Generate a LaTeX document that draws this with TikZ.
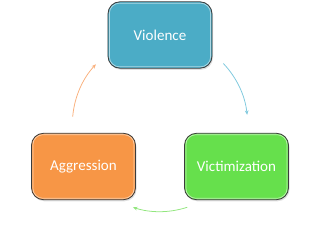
\documentclass[tikz,border=0pt]{standalone}
\usepackage{fontspec}
\setmainfont{Carlito}
\usetikzlibrary{arrows.meta,calc,shadows}
\definecolor{CycleBlue}{HTML}{4BACC6}
\definecolor{CycleOrange}{HTML}{F79646}
\definecolor{CycleGreen}{HTML}{66E04C}
\definecolor{CycleBlueLine}{HTML}{7FC9DE}
\definecolor{CycleOrangeLine}{HTML}{F9B07C}
\definecolor{CycleGreenLine}{HTML}{92E67E}
\definecolor{CycleInk}{HTML}{3C3C3C}
\tikzset{
    cycle/diagram/.style={
        x=0.25mm, y=0.25mm,
        font=\fontsize{10.7}{12}\selectfont,
        line cap=round,
        line join=round
    },
    cycle/box/.style={
        draw=CycleInk, line width=0.6pt, rounded corners=3mm,
        minimum width=26mm, minimum height=16.6mm,
        text=white, inner sep=2pt,
        drop shadow={shadow xshift=0.25mm, shadow yshift=-0.4mm, opacity=0.25}
    },
    cycle/gloss/.style={
        draw=white, draw opacity=0.55, line width=0.5pt,
        rounded corners=2.5mm
    },
    cycle/link/.style={
        line width=0.55pt,
        -{Stealth[length=1.1mm, width=0.9mm]}
    }
}

\begin{document}
\begin{tikzpicture}[cycle/diagram]
    \useasboundingbox (0,0) rectangle (320,224);
    \coordinate (ctr) at (160,100);
    % the three stages
    \node[cycle/box, fill=CycleBlue] (violence) at (160,189) {Violence};
    \node[cycle/box, fill=CycleOrange] (aggression) at (83.5,57.5) {Aggression};
    \node[cycle/box, fill=CycleGreen] (victim) at (236.5,57.5) {Victimization};
    \foreach \n in {violence,aggression,victim}
        \draw[cycle/gloss] ([shift={(1.3pt,1.3pt)}]\n.south west)
            rectangle ([shift={(-1.3pt,-1.3pt)}]\n.north east);
    % arcs round the cycle
    \coordinate (v-out) at ($(ctr)+(43.6:21.9mm)$);
    \coordinate (c-out) at ($(ctr)+(-72:21.9mm)$);
    \coordinate (a-out) at ($(ctr)+(175:21.9mm)$);
    \draw[cycle/link, draw=CycleBlueLine] (v-out)
        arc[start angle=43.6, end angle=6, radius=21.9mm];
    \draw[cycle/link, draw=CycleGreenLine] (c-out)
        arc[start angle=-72, end angle=-108, radius=21.9mm];
    \draw[cycle/link, draw=CycleOrangeLine] (a-out)
        arc[start angle=175, end angle=137, radius=21.9mm];
\end{tikzpicture}
\end{document}
